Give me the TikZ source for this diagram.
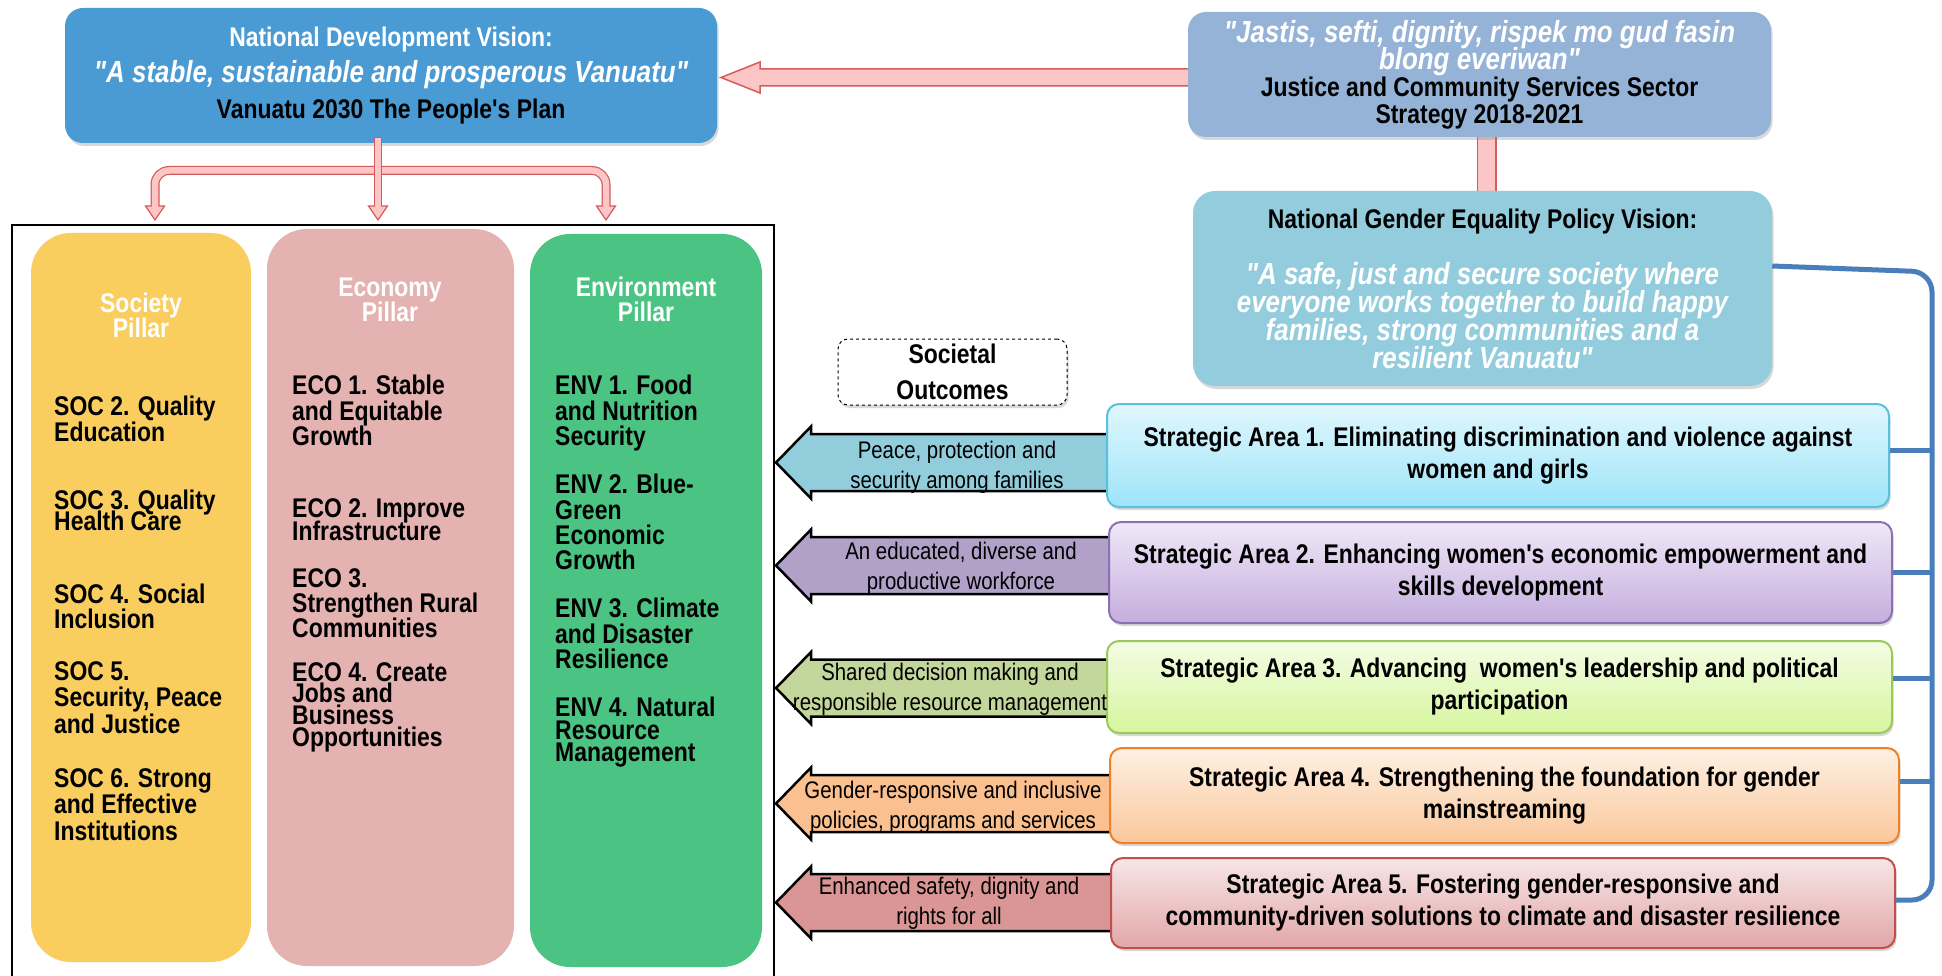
\documentclass[tikz,border=0pt]{standalone}
\usepackage{fontspec}
\setmainfont{Liberation Sans}[FakeStretch=0.85,Ligatures=TeXOff]
\usetikzlibrary{shadows,calc}
\lineskiplimit=-200pt
\definecolor{ndvblue}{RGB}{74,155,212}
\definecolor{jcssblue}{RGB}{149,179,215}
\definecolor{ngepteal}{RGB}{147,205,221}
\definecolor{socyellow}{RGB}{250,206,94}
\definecolor{ecopink}{RGB}{228,179,177}
\definecolor{envgreen}{RGB}{75,196,131}
\definecolor{pinkfill}{RGB}{252,198,198}
\definecolor{pinkline}{RGB}{214,92,92}
\definecolor{railblue}{RGB}{74,126,187}
\definecolor{saAt}{RGB}{224,247,253}
\definecolor{saAb}{RGB}{158,228,249}
\definecolor{saAd}{RGB}{91,192,222}
\definecolor{saBt}{RGB}{240,232,247}
\definecolor{saBb}{RGB}{196,174,222}
\definecolor{saBd}{RGB}{140,112,178}
\definecolor{saCt}{RGB}{244,252,228}
\definecolor{saCb}{RGB}{214,246,158}
\definecolor{saCd}{RGB}{155,200,90}
\definecolor{saDt}{RGB}{254,240,227}
\definecolor{saDb}{RGB}{249,200,156}
\definecolor{saDd}{RGB}{240,128,40}
\definecolor{saEt}{RGB}{247,230,230}
\definecolor{saEb}{RGB}{226,166,167}
\definecolor{saEd}{RGB}{192,80,77}
\definecolor{arA}{RGB}{146,205,220}
\definecolor{arB}{RGB}{177,160,199}
\definecolor{arC}{RGB}{195,214,155}
\definecolor{arD}{RGB}{250,192,144}
\definecolor{arE}{RGB}{217,150,148}
\newcommand\qfont{\bfseries\itshape\fontsize{30.5}{30}\selectfont}
\pgfdeclarelayer{back}
\pgfdeclarelayer{bg}
\pgfsetlayers{back,bg,main}
\begin{document}
\begin{tikzpicture}[x=1pt,y=-1pt,
  shad/.style={drop shadow={shadow xshift=1.5pt,shadow yshift=-3pt,opacity=0.3}},
  bx/.style={shad,rounded corners=18pt,inner sep=0pt,align=center},
  pillar/.style={rounded corners=40pt,inner sep=0pt},
  ptitle/.style={text=white,align=center,inner sep=0pt,font=\bfseries\fontsize{27}{25}\selectfont},
  itm/.style={anchor=north west,align=left,inner sep=0pt,font=\bfseries\fontsize{27}{#1}\selectfont},
  sabox/.style={shad,rounded corners=12pt,line width=2pt,inner sep=0pt,align=center,font=\bfseries\fontsize{27}{32}\selectfont},
  outarrow/.style={draw=black,line width=2.5pt,line join=miter},
  otext/.style={align=center,inner sep=0pt,font=\fontsize{24}{30}\selectfont},
  phead/.style={fill=pinkfill,draw=pinkline,line width=1.2pt,line join=miter},
  bline/.style={draw=railblue,line width=5pt}]
\begin{pgfonlayer}{back}
\fill[white] (0,0) rectangle (1942,976);
\end{pgfonlayer}
\useasboundingbox (0,0) rectangle (1942,976);

% ---------- top boxes ----------
\node[bx,fill=ndvblue,text=white,minimum width=652pt,minimum height=135pt,
      font=\bfseries\fontsize{27}{36}\selectfont] (ndv) at (391,75.5)
 {National Development Vision:\\{\qfont "A stable, sustainable and prosperous Vanuatu"}\\\textcolor{black}{Vanuatu 2030 The People's Plan}};

\node[bx,fill=jcssblue,text=white,minimum width=583pt,minimum height=125pt,
      font=\bfseries\fontsize{27}{27}\selectfont] (jcss) at (1479.5,74.5)
 {{\qfont "Jastis, sefti, dignity, rispek mo gud fasin}\\{\qfont blong everiwan"}\\\textcolor{black}{Justice and Community Services Sector}\\\textcolor{black}{Strategy 2018-2021}};

\node[bx,rounded corners=22pt,fill=ngepteal,text=white,minimum width=579pt,minimum height=195pt,
      font=\bfseries\fontsize{27}{28}\selectfont] (ngep) at (1482.5,288.5)
 {\textcolor{black}{National Gender Equality Policy Vision:}\\[28pt]{\qfont "A safe, just and secure society where}\\{\qfont everyone works together to build happy}\\{\qfont families, strong communities and a}\\{\qfont resilient Vanuatu"}};

% pink connectors behind boxes
\begin{pgfonlayer}{bg}
\filldraw[fill=pinkfill,draw=pinkline,line width=1.5pt,line join=miter]
  (1200,69) -- (760,69) -- (760,62) -- (721,77.5) -- (760,93) -- (760,86) -- (1200,86);
\filldraw[fill=pinkfill,draw=pinkline,line width=1.5pt]
  ([xshift=-2pt,yshift=6pt]jcss.south) rectangle ([xshift=13.5pt,yshift=-6pt]ngep.north);
\end{pgfonlayer}

% branching arrow from the national vision
\draw[line width=9pt,pinkline,rounded corners=14pt] (155,207) -- (155,170.5) -- (606,170.5) -- (606,207);
\filldraw[phead] (145.5,206) -- (164.5,206) -- (155,220) -- cycle;
\filldraw[phead] (596.5,206) -- (615.5,206) -- (606,220) -- cycle;
\draw[line width=6.5pt,pinkfill,rounded corners=14pt] (155,207.5) -- (155,170.5) -- (606,170.5) -- (606,207.5);
\draw[line width=8.5pt,pinkline] (378,137) -- (378,207);
\filldraw[phead] (368.5,206) -- (387.5,206) -- (378,220) -- cycle;
\draw[line width=6pt,pinkfill] (378,138.3) -- (378,207.5);

% ---------- frame and pillars ----------
\draw[line width=1.5pt] (12,976) -- (12,225) -- (774,225) -- (774,976);

\node[pillar,fill=socyellow,minimum width=220pt,minimum height=729pt] (soc) at (141,597.5) {};
\node[pillar,fill=ecopink,minimum width=247pt,minimum height=737pt] (eco) at (390.5,597.5) {};
\node[pillar,fill=envgreen,minimum width=232pt,minimum height=733pt] (env) at (646,600.5) {};

\node[ptitle] (soct) at (141,315) {Society\\Pillar};
\node[ptitle] (ecot) at (390,299.5) {Economy\\Pillar};
\node[ptitle] (envt) at (646,299.5) {Environment\\Pillar};

\node[itm=26] (soc2) at (54,396) {SOC 2. Quality\\Education};
\node[itm=21] (soc3) at (54,490) {SOC 3. Quality\\Health Care};
\node[itm=25] (soc4) at (54,584) {SOC 4. Social\\Inclusion};
\node[itm=26.5] (soc5) at (54,661) {SOC 5.\\Security, Peace\\and Justice};
\node[itm=26.5] (soc6) at (54,768) {SOC 6. Strong\\and Effective\\Institutions};

\node[itm=25.5] (eco1) at (292,375) {ECO 1. Stable\\and Equitable\\Growth};
\node[itm=23] (eco2) at (292,498) {ECO 2. Improve\\Infrastructure};
\node[itm=25] (eco3) at (292,568) {ECO 3.\\Strengthen Rural\\Communities};
\node[itm=21.7] (eco4) at (292,662) {ECO 4. Create\\Jobs and\\Business\\Opportunities};

\node[itm=25.5] (env1) at (555,375) {ENV 1. Food\\and Nutrition\\Security};
\node[itm=25.3] (env2) at (555,474) {ENV 2. Blue-\\Green\\Economic\\Growth};
\node[itm=25.5] (env3) at (555,598) {ENV 3. Climate\\and Disaster\\Resilience};
\node[itm=22.5] (env4) at (555,697) {ENV 4. Natural\\Resource\\Management};

% ---------- societal outcomes ----------
\node[shad,draw,dashed,line width=1pt,rounded corners=10pt,fill=white,minimum width=229pt,minimum height=66pt,
      inner sep=0pt,align=center,font=\bfseries\fontsize{27}{36}\selectfont] (soco) at (952.5,372) {Societal\\Outcomes};

% ---------- strategic areas ----------
\node[sabox,top color=saAt,bottom color=saAb,draw=saAd,minimum width=782pt,minimum height=103pt] (sa1) at (1498,455.5)
 {Strategic Area 1. Eliminating discrimination and violence against\\women and girls};
\node[sabox,top color=saBt,bottom color=saBb,draw=saBd,minimum width=783pt,minimum height=101pt] (sa2) at (1500.5,572.5)
 {Strategic Area 2. Enhancing women's economic empowerment and\\skills development};
\node[sabox,top color=saCt,bottom color=saCb,draw=saCd,minimum width=785pt,minimum height=92pt] (sa3) at (1499.5,687)
 {Strategic Area 3. Advancing~ women's leadership and political\\participation};
\node[sabox,top color=saDt,bottom color=saDb,draw=saDd,minimum width=789pt,minimum height=95pt] (sa4) at (1504.5,795.5)
 {Strategic Area 4. Strengthening the foundation for gender\\mainstreaming};
\node[sabox,top color=saEt,bottom color=saEb,draw=saEd,minimum width=784pt,minimum height=90pt] (sa5) at (1503,903)
 {Strategic Area 5. Fostering gender-responsive and\\community-driven solutions to climate and disaster resilience};

% outcome arrows behind the strategic boxes
\begin{pgfonlayer}{bg}
\filldraw[outarrow,fill=arA] (1130,434) -- (811,434) -- (811,426.5) -- (776,462.5) -- (811,498.5) -- (811,491) -- (1130,491);
\filldraw[outarrow,fill=arB] (1130,537) -- (811,537) -- (811,529.5) -- (776,565.5) -- (811,601.5) -- (811,594) -- (1130,594);
\filldraw[outarrow,fill=arC] (1130,659.5) -- (811,659.5) -- (811,652) -- (776,688) -- (811,724) -- (811,716.5) -- (1130,716.5);
\filldraw[outarrow,fill=arD] (1130,775) -- (811,775) -- (811,767.5) -- (776,803.5) -- (811,839.5) -- (811,832) -- (1130,832);
\filldraw[outarrow,fill=arE] (1130,874) -- (811,874) -- (811,866.5) -- (776,902.5) -- (811,938.5) -- (811,931) -- (1130,931);
\end{pgfonlayer}

\node[otext] (o1) at (957,467) {Peace, protection and\\security among families};
\node[otext] (o2) at (961,568) {An educated, diverse and\\productive workforce};
\node[otext] (o3) at (950,689) {Shared decision making and\\responsible resource management};
\node[otext] (o4) at (953,807) {Gender-responsive and inclusive\\policies, programs and services};
\node[otext] (o5) at (949,903) {Enhanced safety, dignity and\\rights for all};

% ---------- blue bracket ----------
\coordinate (rail) at (1932,272);
\draw[bline,rounded corners=20pt] (ngep.east |- 0,266) -- (rail) -- (1932,900) -- (sa5.east |- 0,900);
\draw[bline] (sa1.east |- 0,450) -- (rail |- 0,450);
\draw[bline] (sa2.east |- 0,572) -- (rail |- 0,572);
\draw[bline] (sa3.east |- 0,678) -- (rail |- 0,678);
\draw[bline] (sa4.east |- 0,781) -- (rail |- 0,781);
\end{tikzpicture}
\end{document}
